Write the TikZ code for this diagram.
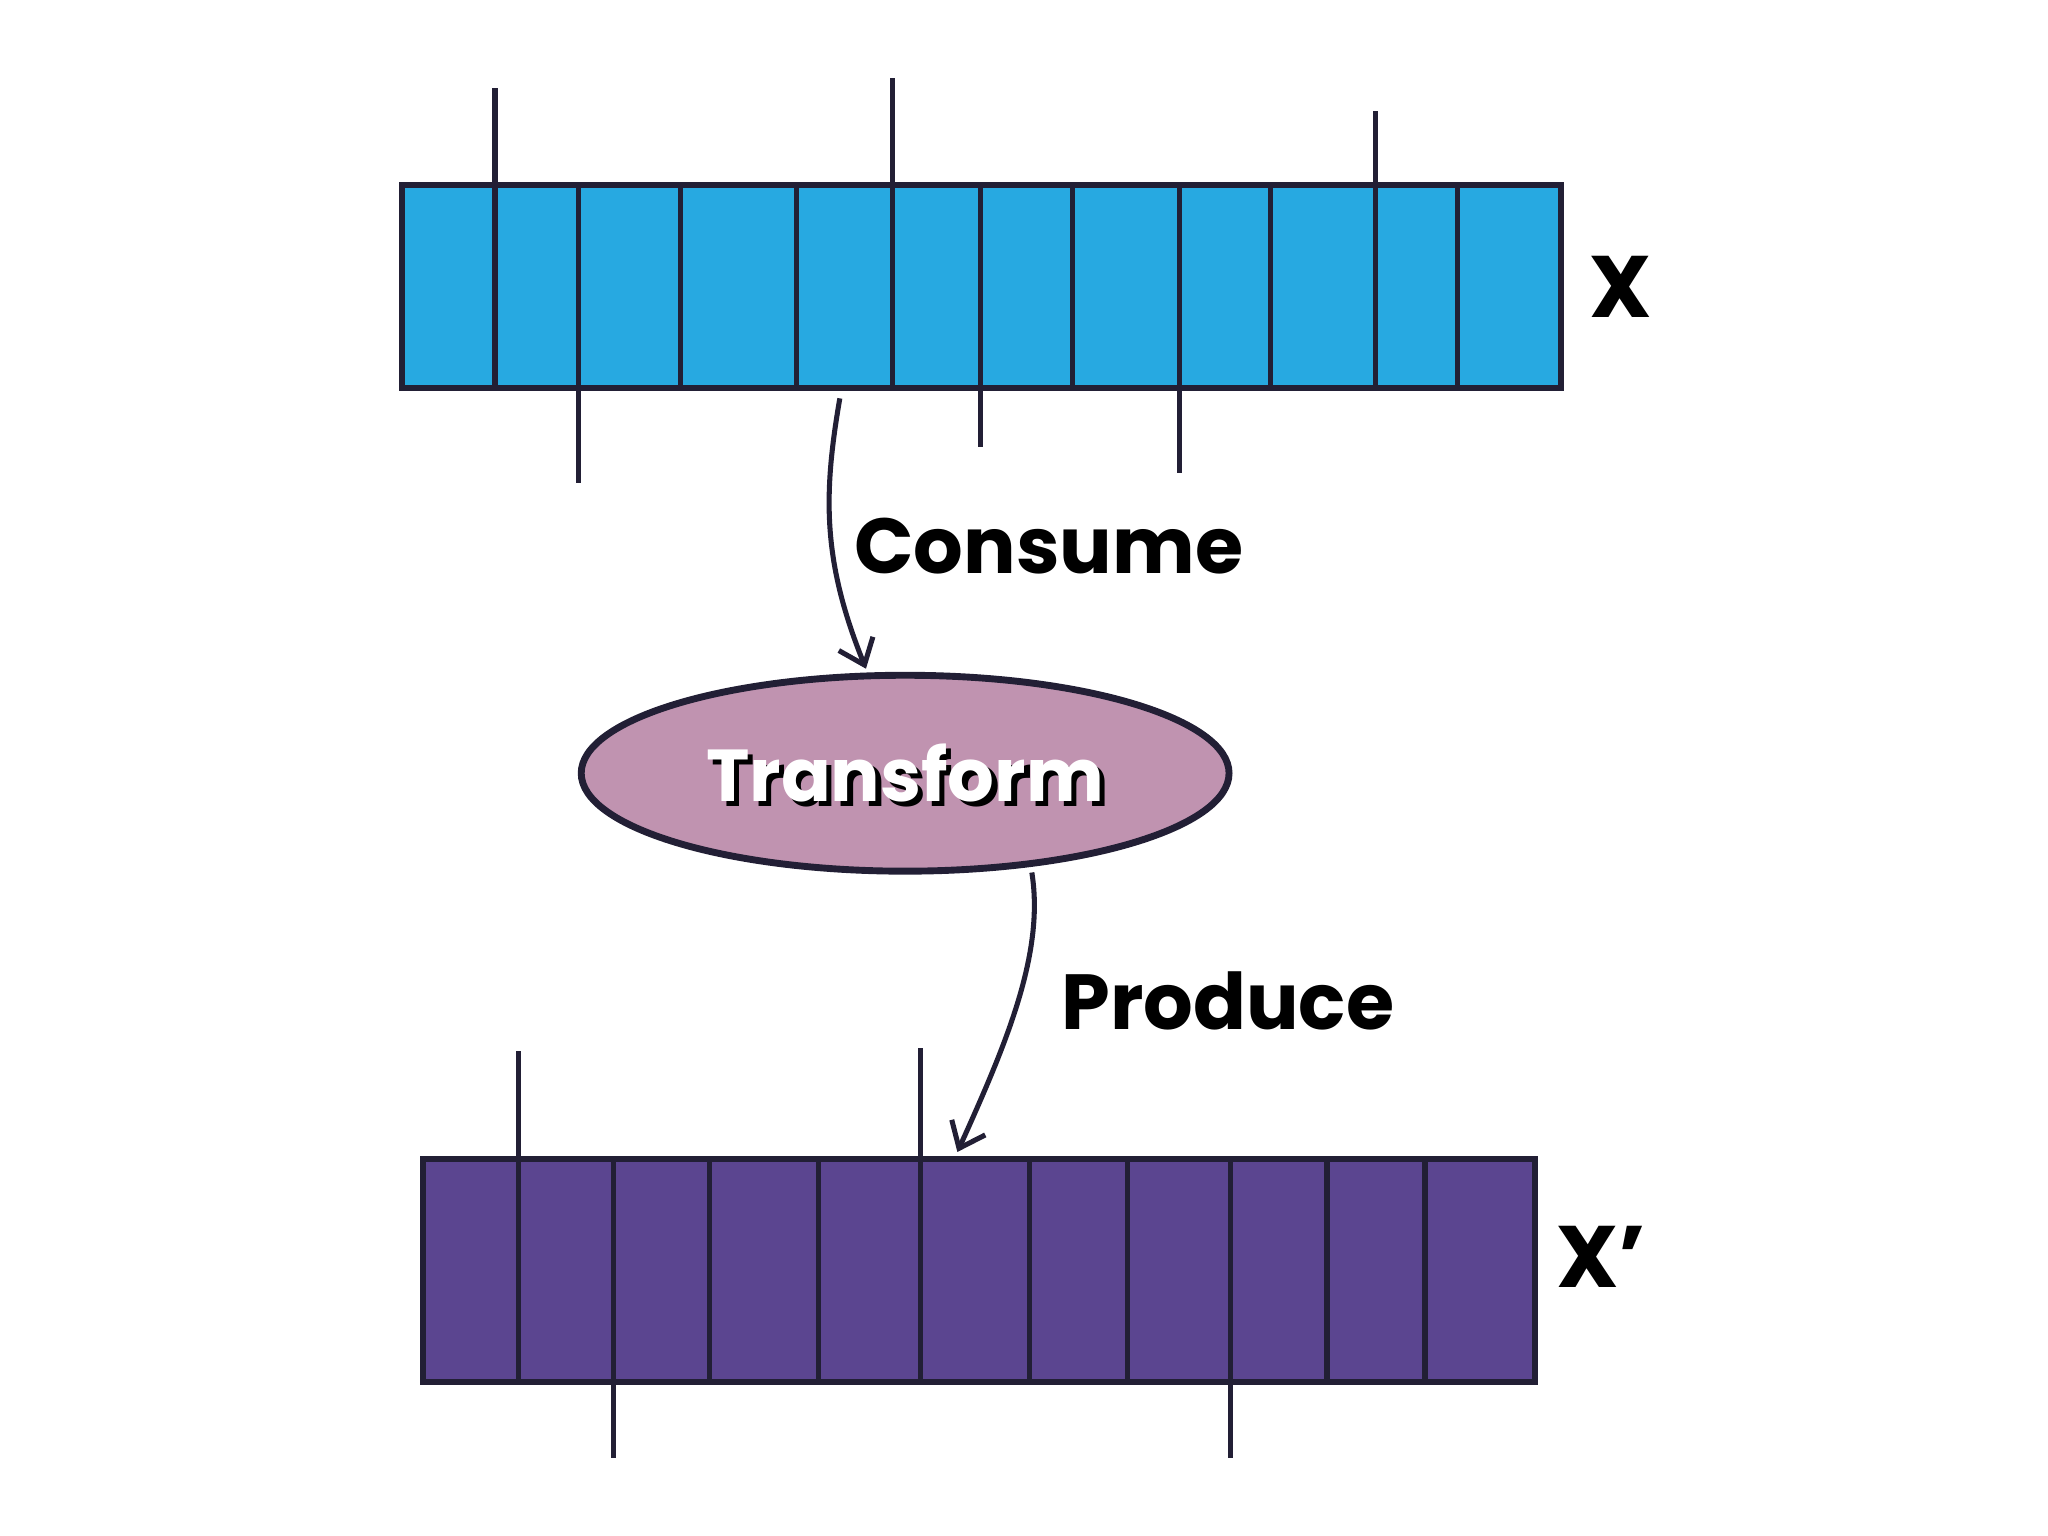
\documentclass[tikz,border=0pt]{standalone}
\usepackage{fontspec}
\setmainfont{Poppins}
\usetikzlibrary{arrows.meta}
\definecolor{ink}{HTML}{221F35}
\definecolor{topc}{HTML}{27A9E1}
\definecolor{botc}{HTML}{5B4590}
\definecolor{ellc}{HTML}{C093B0}
\begin{document}
\begin{tikzpicture}[x=0.01cm,y=-0.01cm,
  ln/.style={ink,line width=1.1pt},
  lbl/.style={font=\fontsize{17}{19}\selectfont\bfseries,text=black},
  arr/.style={ink,line width=1.1pt,-{Straight Barb[length=5pt,width=8pt]}}]
\useasboundingbox (0,0) rectangle (1568,1176);
% top bar
\path[draw=ink,fill=topc,line width=1.3pt] (308,142) rectangle (1195,297);
\foreach \x in {379,443,521,610,683,751,821,903,973,1053,1116} \draw[ln] (\x,142)--(\x,297);
\draw[ln] (379,142)--(379,67);
\draw[ln] (683,142)--(683,60);
\draw[ln] (1053,142)--(1053,85);
\draw[ln] (443,297)--(443,370);
\draw[ln] (751,297)--(751,342);
\draw[ln] (903,297)--(903,362);
\node[font=\fontsize{19}{21}\selectfont\bfseries] (X) at (1241,220) {X};
% bottom bar
\path[draw=ink,fill=botc,line width=1.3pt] (324,887) rectangle (1175,1058);
\foreach \x in {397,470,543,627,705,788,863,942,1016,1091} \draw[ln] (\x,887)--(\x,1058);
\draw[ln] (397,887)--(397,805);
\draw[ln] (705,887)--(705,802);
\draw[ln] (470,1058)--(470,1116);
\draw[ln] (942,1058)--(942,1116);
\node[font=\fontsize{19}{21}\selectfont\bfseries] (X2) at (1226,962) {X’};
% ellipse
\draw[ink,fill=ellc,line width=1.5pt] (693,592) ellipse [x radius=248,y radius=75];
\node[font=\fontsize{16}{18}\selectfont\bfseries,text=black] (trs) at (697,596) {Transform};
\node[font=\fontsize{16}{18}\selectfont\bfseries,text=white] (tr) at (693,592) {Transform};
% arrows
\coordinate (a1) at (643,305);
\coordinate (a2) at (663,512);
\draw[arr] (a1) .. controls (630,380) and (630,430) .. (a2);
\node[lbl] (cons) at (803,418) {Consume};
\coordinate (b1) at (790,668);
\coordinate (b2) at (733,882);
\draw[arr] (b1) .. controls (800,730) and (770,800) .. (b2);
\node[lbl] (prod) at (940,766) {Produce};
\end{tikzpicture}
\end{document}
